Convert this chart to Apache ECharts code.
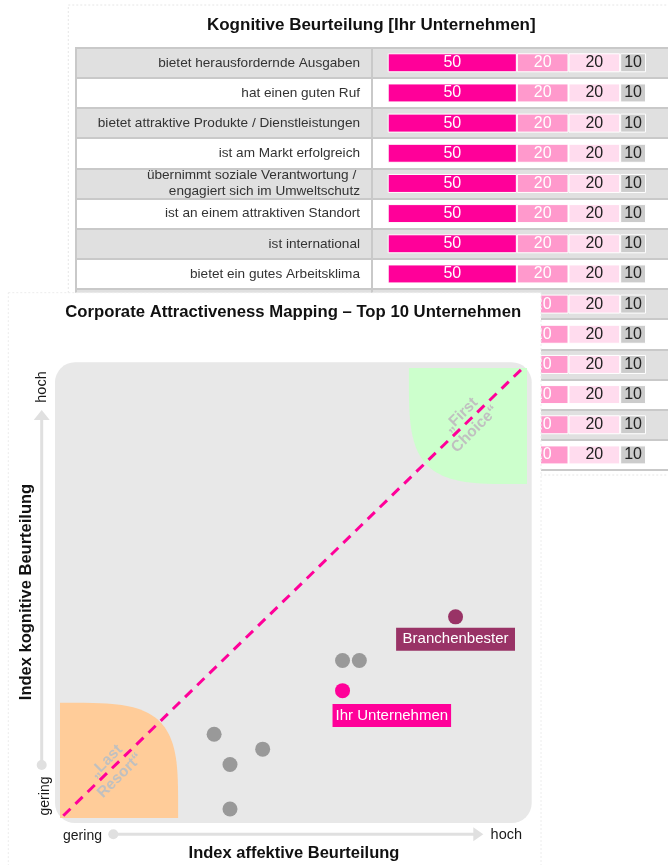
<!DOCTYPE html>
<html><head><meta charset="utf-8">
<script src="https://cdn.jsdelivr.net/npm/echarts@6/dist/echarts.min.js"></script>
<style>html,body{margin:0;padding:0;background:#fff}#c{width:668px;height:865px}</style>
</head><body><div id="c"></div>
<script>
// ---- Table: Kognitive Beurteilung [Ihr Unternehmen] ----
const attributes = [
  'bietet herausfordernde Ausgaben',
  'hat einen guten Ruf',
  'bietet attraktive Produkte / Dienstleistungen',
  'ist am Markt erfolgreich',
  'übernimmt soziale Verantwortung / \nengagiert sich im Umweltschutz',
  'ist an einem attraktiven Standort',
  'ist international',
  'bietet ein gutes Arbeitsklima',
  'bietet gute Karrierechancen',
  'bietet eine gute Bezahlung',
  'bietet Weiterbildungsmöglichkeiten',
  'ist innovativ',
  'hat ein gutes Management',
  'bietet sichere Arbeitsplätze'
];
const share1 = [50, 50, 50, 50, 50, 50, 50, 50, 50, 50, 50, 50, 50, 50];
const share2 = [20, 20, 20, 20, 20, 20, 20, 20, 20, 20, 20, 20, 20, 20];
const share3 = [20, 20, 20, 20, 20, 20, 20, 20, 20, 20, 20, 20, 20, 20];
const share4 = [10, 10, 10, 10, 10, 10, 10, 10, 10, 10, 10, 10, 10, 10];

// ---- Mapping: affektive (x) vs. kognitive (y) Beurteilung ----
const bestX = [84.7];
const bestY = [44.7];
const ownX = [60.5];
const ownY = [28.3];
const otherX = [60.5, 64.1, 33.0, 43.4, 36.4, 36.4];
const otherY = [35.0, 35.0, 18.6, 15.3, 11.9, 2.0];
const diagonalX = [0.7, 98.7];
const diagonalY = [0.5, 99.6];
const zoneNames = ['\u201ELast\nResort\u201C', '\u201EFirst\nChoice\u201C'];
const zoneX0 = [0, 74.7];
const zoneX1 = [25.3, 100];
const zoneY0 = [0, 74.2];
const zoneY1 = [25.6, 100];

const FONT = "'Liberation Sans', Arial, Helvetica, sans-serif";
const chart = echarts.init(document.getElementById('c'), null, {renderer: 'canvas'});

const zoneStyle = [
  {fill: '#ffcc99', dx: -6, dy: 8},
  {fill: '#ccffcc', dx: 0, dy: -4}
];

function zoneRender(params, api) {
  const i = params.dataIndex;
  const x0 = api.value(0), x1 = api.value(1), y0 = api.value(2), y1 = api.value(3);
  const ax = Math.abs(x0 - 50) > Math.abs(x1 - 50) ? x0 : x1;
  const bx = ax === x0 ? x1 : x0;
  const ay = Math.abs(y0 - 50) > Math.abs(y1 - 50) ? y0 : y1;
  const by = ay === y0 ? y1 : y0;
  const a = bx - ax, b = by - ay, n = 4;
  const pts = [api.coord([ax, ay])];
  for (let k = 0; k <= 40; k++) {
    const t = (Math.PI / 2) * k / 40;
    const c = Math.pow(Math.cos(t), 2 / n), s = Math.pow(Math.sin(t), 2 / n);
    pts.push(api.coord([ax + a * c, ay + b * s]));
  }
  const ctr = api.coord([(x0 + x1) / 2, (y0 + y1) / 2]);
  const st = zoneStyle[i];
  return {
    type: 'group',
    children: [
      {type: 'polygon', shape: {points: pts}, style: {fill: st.fill}},
      {type: 'text', x: ctr[0] + st.dx, y: ctr[1] + st.dy, rotation: Math.PI / 4,
        style: {text: zoneNames[i], font: 'bold 15.5px ' + FONT, fill: '#c0c0c0',
          align: 'center', verticalAlign: 'middle', lineHeight: 20}}
    ]
  };
}

const tableLeft = 75, zeroPx = 387.7, pxPerUnit = 2.583, tableWidth = 620;
const xMin = -(zeroPx - tableLeft) / pxPerUnit;
const xMax = (tableLeft + tableWidth - zeroPx) / pxPerUnit;
const dividerVal = -(zeroPx - 371.7) / pxPerUnit;

function barSeries(name, data, color, labelColor) {
  return {
    name, type: 'bar', stack: 'total', data, xAxisIndex: 0, yAxisIndex: 0,
    barWidth: 19, silent: true, z: 3,
    itemStyle: {color, borderColor: '#ffffff', borderWidth: 1},
    label: {show: true, position: 'inside', color: labelColor, fontSize: 16, fontFamily: FONT}
  };
}

const txt = (text, x, y, font, fill, rot, z) => ({
  type: 'text', x, y, rotation: rot || 0, zlevel: 1, z: z || 4, silent: true,
  style: {text, font: font + ' ' + FONT, fill, align: 'center', verticalAlign: 'middle'}
});

const option = {
  animation: false,
  backgroundColor: '#ffffff',
  grid: [
    {left: tableLeft, top: 47.7, width: tableWidth, height: 422.3, containLabel: false, outerBoundsMode: 'none'},
    {left: 60, top: 368, width: 467, height: 450, containLabel: false, outerBoundsMode: 'none'}
  ],
  xAxis: [
    {gridIndex: 0, type: 'value', min: xMin, max: xMax, show: false},
    {gridIndex: 1, type: 'value', min: 0, max: 100, show: false}
  ],
  yAxis: [
    {gridIndex: 0, type: 'category', data: attributes, inverse: true,
      position: 'left', offset: -(367 - tableLeft),
      axisLine: {show: false}, axisTick: {show: false},
      axisLabel: {interval: 0, margin: 7, color: '#333333', fontSize: 13.6, fontFamily: FONT, lineHeight: 16, align: 'right'},
      splitLine: {show: true, interval: 0, lineStyle: {color: '#c9c9c9', width: 2}},
      splitArea: {show: true, interval: 0, areaStyle: {color: ['#e0e0e0', '#ffffff']}}
    },
    {gridIndex: 1, type: 'value', min: 0, max: 100, show: false}
  ],
  graphic: [
    // back panel
    {type: 'rect', z: -10, silent: true, shape: {x: 68.3, y: 5, width: 640, height: 470},
      style: {fill: '#ffffff', stroke: '#e6e6e6', lineWidth: 1, lineDash: [2, 2]}},
    {type: 'text', x: 371.3, y: 25, z: 10, silent: true,
      style: {text: 'Kognitive Beurteilung [Ihr Unternehmen]', font: 'bold 17px ' + FONT, fill: '#111111', align: 'center', verticalAlign: 'middle'}},
    // front panel
    {type: 'rect', zlevel: 1, z: 0, silent: true, shape: {x: 8.3, y: 292.7, width: 532.7, height: 600},
      style: {fill: '#ffffff', stroke: '#ececec', lineWidth: 1, lineDash: [2, 2]}},
    {type: 'rect', zlevel: 1, z: 1, silent: true, shape: {x: 55, y: 362.3, width: 476.7, height: 460.7, r: 20},
      style: {fill: '#e8e8e8'}},
    txt('Corporate Attractiveness Mapping \u2013 Top 10 Unternehmen', 293.2, 312.3, 'bold 16.7px', '#111111'),
    // x arrow
    {type: 'line', zlevel: 1, z: 3, silent: true, shape: {x1: 113.3, y1: 834.3, x2: 474, y2: 834.3},
      style: {stroke: '#e0e0e0', lineWidth: 3}},
    {type: 'polygon', zlevel: 1, z: 3, silent: true, shape: {points: [[473.3, 827.3], [483.3, 834.3], [473.3, 841.3]]},
      style: {fill: '#e0e0e0'}},
    {type: 'circle', zlevel: 1, z: 3, silent: true, shape: {cx: 113.3, cy: 834.3, r: 5}, style: {fill: '#e0e0e0'}},
    // y arrow
    {type: 'line', zlevel: 1, z: 3, silent: true, shape: {x1: 41.7, y1: 765, x2: 41.7, y2: 419},
      style: {stroke: '#e0e0e0', lineWidth: 3}},
    {type: 'polygon', zlevel: 1, z: 3, silent: true, shape: {points: [[33.7, 420], [41.7, 410], [49.7, 420]]},
      style: {fill: '#e0e0e0'}},
    {type: 'circle', zlevel: 1, z: 3, silent: true, shape: {cx: 41.7, cy: 765, r: 5}, style: {fill: '#e0e0e0'}},
    txt('gering', 82.5, 835.7, '14px', '#1a1a1a'),
    txt('hoch', 506.3, 835, '14.5px', '#1a1a1a'),
    txt('hoch', 42, 387, '14.5px', '#1a1a1a', Math.PI / 2),
    txt('gering', 45.5, 796, '14px', '#1a1a1a', Math.PI / 2),
    txt('Index kognitive Beurteilung', 26, 592, 'bold 16.5px', '#111111', Math.PI / 2),
    txt('Index affektive Beurteilung', 294, 853.3, 'bold 16.5px', '#111111')
  ],
  series: [
    Object.assign(barSeries('50', share1, '#ff0099', '#ffffff'), {
      markLine: {silent: true, symbol: ['none', 'none'], label: {show: false},
        lineStyle: {color: '#c9c9c9', width: 2, type: 'solid'},
        data: [{xAxis: xMin + 0.2}, {xAxis: dividerVal}]}
    }),
    barSeries('20a', share2, '#ff99cc', '#ffffff'),
    barSeries('20b', share3, '#ffdcee', '#222222'),
    barSeries('10', share4, '#cccccc', '#222222'),
    {
      type: 'custom', name: 'Zonen', xAxisIndex: 1, yAxisIndex: 1, zlevel: 1, z: 5, silent: true,
      renderItem: zoneRender,
      encode: {x: [0, 1], y: [2, 3]},
      data: zoneNames.map((n, i) => [zoneX0[i], zoneX1[i], zoneY0[i], zoneY1[i]])
    },
    {
      type: 'line', name: 'Diagonale', xAxisIndex: 1, yAxisIndex: 1, zlevel: 1, z: 6, silent: true,
      symbol: 'none', data: diagonalX.map((x, i) => [x, diagonalY[i]]),
      lineStyle: {color: '#ff0099', width: 3, type: [10, 7]}
    },
    {
      type: 'scatter', name: 'Wettbewerber', xAxisIndex: 1, yAxisIndex: 1, zlevel: 1, z: 7, silent: true,
      symbolSize: 15, data: otherX.map((x, i) => [x, otherY[i]]),
      itemStyle: {color: '#999999', opacity: 1}
    },
    {
      type: 'scatter', name: 'Ihr Unternehmen', xAxisIndex: 1, yAxisIndex: 1, zlevel: 1, z: 7, silent: true,
      symbolSize: 15, data: ownX.map((x, i) => [x, ownY[i]]),
      itemStyle: {color: '#ff0099', opacity: 1},
      label: {show: true, formatter: '{a}', position: [-2.5, 20.8], align: 'left', verticalAlign: 'top',
        backgroundColor: '#ff0099', color: '#ffffff', fontSize: 15, fontFamily: FONT, lineHeight: 17, padding: [3, 3, 3, 3]}
    },
    {
      type: 'scatter', name: 'Branchenbester', xAxisIndex: 1, yAxisIndex: 1, zlevel: 1, z: 7, silent: true,
      symbolSize: 15, data: bestX.map((x, i) => [x, bestY[i]]),
      itemStyle: {color: '#993366', opacity: 1},
      label: {show: true, formatter: '{a}', position: 'bottom', distance: 3.5,
        backgroundColor: '#993366', color: '#ffffff', fontSize: 15, fontFamily: FONT, lineHeight: 17, padding: [3, 6.5, 3, 6.5]}
    }
  ]
};
chart.setOption(option);
</script>
</body></html>
